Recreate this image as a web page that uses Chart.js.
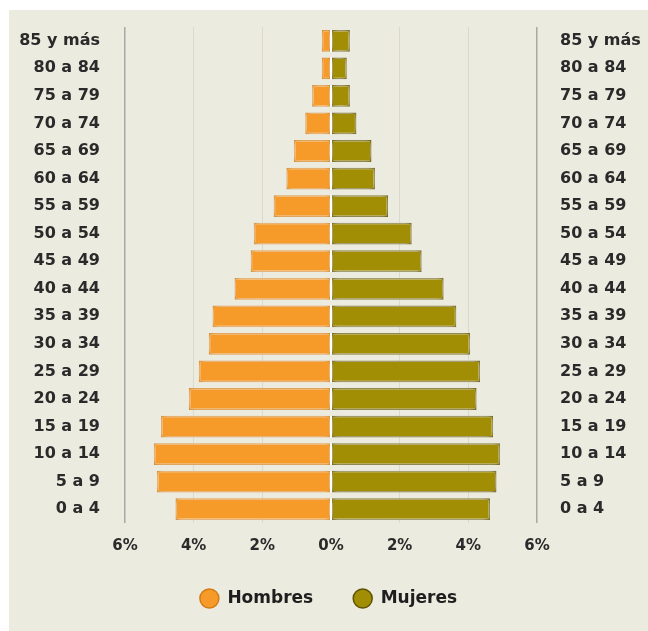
<!DOCTYPE html>
<html>
<head>
<meta charset="utf-8">
<script src="https://cdn.jsdelivr.net/npm/chart.js@4/dist/chart.umd.min.js"></script>
<style>
  html, body { margin: 0; padding: 0; background: #ffffff; }
  #card { position: absolute; left: 9px; top: 10px; width: 639px; height: 621px; background: #ecebdf; }
  canvas { display: block; }
</style>
</head>
<body>
<div id="card"><canvas id="c"></canvas></div>
<script>
const ageGroups = ['85 y más','80 a 84','75 a 79','70 a 74','65 a 69','60 a 64','55 a 59','50 a 54','45 a 49','40 a 44','35 a 39','30 a 34','25 a 29','20 a 24','15 a 19','10 a 14','5 a 9','0 a 4'];
const hombres = [0.27,0.27,0.55,0.75,1.08,1.30,1.67,2.25,2.34,2.81,3.45,3.56,3.85,4.14,4.95,5.16,5.07,4.53];
const mujeres = [0.55,0.46,0.55,0.74,1.18,1.28,1.66,2.35,2.64,3.28,3.65,4.05,4.34,4.24,4.72,4.92,4.82,4.63];
const xTicks = [-6,-4,-2,0,2,4,6];

const FONT = '"DejaVu Sans", sans-serif';

const glowPlugin = {
  id: 'glow',
  beforeDatasetsDraw(chart) {
    const ctx = chart.ctx;
    ctx.save();
    ctx.shadowColor = 'rgba(255,255,255,1)';
    ctx.shadowBlur = 6;
    ctx.shadowOffsetX = 0;
    ctx.shadowOffsetY = 0;
  },
  afterDatasetsDraw(chart) {
    const ctx = chart.ctx;
    ctx.restore();
    const x0 = chart.scales.x.getPixelForValue(0);
    const meta = chart.getDatasetMeta(0);
    ctx.save();
    ctx.strokeStyle = '#ffffff';
    ctx.lineWidth = 2;
    meta.data.forEach(bar => {
      const h = bar.height;
      ctx.beginPath();
      ctx.moveTo(x0, bar.y - h / 2);
      ctx.lineTo(x0, bar.y + h / 2);
      ctx.stroke();
    });
    ctx.restore();
  }
};

function noVPad(scale, w) {
  scale.width = w;
  scale.paddingTop = 0;
  scale.paddingBottom = 0;
}

new Chart(document.getElementById('c'), {
  type: 'bar',
  data: {
    labels: ageGroups,
    datasets: [
      {
        label: 'Hombres',
        data: hombres.map(v => -v),
        backgroundColor: '#f69a2a',
        borderColor: '#d27c14',
        borderWidth: 1.5,
        borderSkipped: false,
        barPercentage: 0.79,
        categoryPercentage: 1.0
      },
      {
        label: 'Mujeres',
        data: mujeres,
        backgroundColor: '#a28e04',
        borderColor: '#5f5300',
        borderWidth: 1.5,
        borderSkipped: false,
        barPercentage: 0.79,
        categoryPercentage: 1.0
      }
    ]
  },
  options: {
    indexAxis: 'y',
    responsive: true,
    maintainAspectRatio: false,
    animation: false,
    layout: { padding: { top: 17, left: 0, right: 0, bottom: 14 } },
    scales: {
      x: {
        stacked: true,
        min: -6,
        max: 6,
        afterBuildTicks(scale) { scale.ticks = xTicks.map(v => ({ value: v })); },
        afterFit(scale) { scale.height = 27; },
        ticks: {
          padding: 14,
          color: '#2a2a2a',
          font: { family: FONT, size: 15, weight: 'bold' },
          callback: v => Math.abs(v) + '%'
        },
        grid: {
          drawTicks: false,
          lineWidth: ctx => (Math.abs(ctx.tick.value) === 6 ? 1.5 : 1),
          color: ctx => {
            const v = Math.abs(ctx.tick.value);
            if (v === 6) return '#a8a8a4';
            if (v === 0) return 'rgba(0,0,0,0)';
            return '#dbd9cc';
          }
        },
        border: { display: false }
      },
      y: {
        stacked: true,
        position: 'left',
        afterFit(scale) { noVPad(scale, 116); },
        ticks: {
          padding: 25,
          color: '#2a2a2a',
          font: { family: FONT, size: 16, weight: 'bold' }
        },
        grid: { display: false, drawTicks: false },
        border: { display: false }
      },
      y2: {
        type: 'category',
        labels: ageGroups,
        position: 'right',
        offset: true,
        afterFit(scale) { noVPad(scale, 111); },
        ticks: {
          padding: 23,
          color: '#2a2a2a',
          font: { family: FONT, size: 16, weight: 'bold' }
        },
        grid: { display: false, drawTicks: false },
        border: { display: false }
      }
    },
    plugins: {
      legend: {
        position: 'bottom',
        labels: {
          usePointStyle: true,
          pointStyle: 'circle',
          pointStyleWidth: 19,
          boxHeight: 13.4,
          padding: 40,
          color: '#1e1e1e',
          font: { family: FONT, size: 17, weight: 'bold' }
        }
      },
      tooltip: { enabled: false }
    }
  },
  plugins: [glowPlugin]
});
</script>
</body>
</html>
